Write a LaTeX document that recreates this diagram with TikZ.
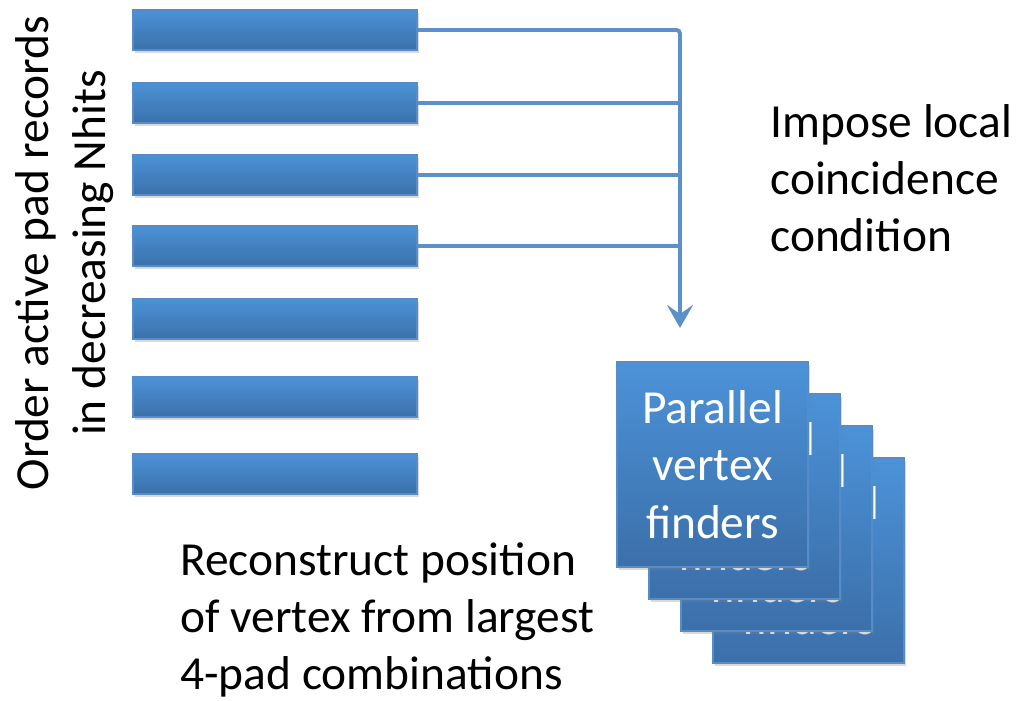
\documentclass[tikz,border=0pt]{standalone}
\usepackage{fontspec}
\setmainfont{Carlito}
\usetikzlibrary{arrows.meta,shadows}
\definecolor{padtop}{RGB}{76,146,216}
\definecolor{padbot}{RGB}{59,112,170}
\definecolor{padedge}{RGB}{88,140,200}
\definecolor{wire}{RGB}{92,144,201}

\begin{document}
\begin{tikzpicture}[
  rec/.style={draw=padedge, line width=0.6pt, top color=padtop, bottom color=padbot,
              minimum width=5.68cm, minimum height=0.8cm, inner sep=0pt,
              drop shadow={shadow xshift=0.03cm, shadow yshift=-0.06cm, opacity=0.3}},
  finder/.style={rec, minimum width=3.82cm, minimum height=4.1cm, text=white,
                 align=center, font=\fontsize{27}{32.6}\selectfont},
  ar/.style={draw=wire, line width=2.2pt, rounded corners=2pt},
  lab/.style={font=\fontsize{27}{32.4}\selectfont, align=left, inner sep=0pt}]
\useasboundingbox (0,0) rectangle (20.38,-14);
% pad records, largest Nhits on top
\node[rec] (r1) at (5.5,-0.60) {};
\node[rec] (r2) at (5.5,-2.06) {};
\node[rec] (r3) at (5.5,-3.50) {};
\node[rec] (r4) at (5.5,-4.92) {};
\node[rec] (r5) at (5.5,-6.38) {};
\node[rec] (r6) at (5.5,-7.94) {};
\node[rec] (r7) at (5.5,-9.48) {};
\node[lab, align=center, rotate=90] (ord) at (1.30,-5.06)
  {Order active pad records\\in decreasing Nhits};
% coincidence bus into the finders
\coordinate (tip) at (13.6,-6.56);
\draw[ar, -{Stealth[length=0.46cm, width=0.52cm, inset=0.18cm]}] (r1.east) -| (tip);
\draw[ar] (r2.east) -- (r2.east -| tip);
\draw[ar] (r3.east) -- (r3.east -| tip);
\draw[ar] (r4.east) -- (r4.east -| tip);
\node[lab, anchor=north west] (imp) at (15.4,-2.08)
  {Impose local\\coincidence\\condition};
% stack of finders, back to front
\node[finder] (vf4) at (16.17,-11.21) {Parallel\\vertex\\finders};
\node[finder] (vf3) at (15.53,-10.57) {Parallel\\vertex\\finders};
\node[finder] (vf2) at (14.89,-9.93) {Parallel\\vertex\\finders};
\node[finder] (vf1) at (14.25,-9.29) {Parallel\\vertex\\finders};
\node[lab, anchor=north west] (rec) at (3.6,-10.84)
  {Reconstruct position\\of vertex from largest\\4-pad combinations};
\end{tikzpicture}
\end{document}
